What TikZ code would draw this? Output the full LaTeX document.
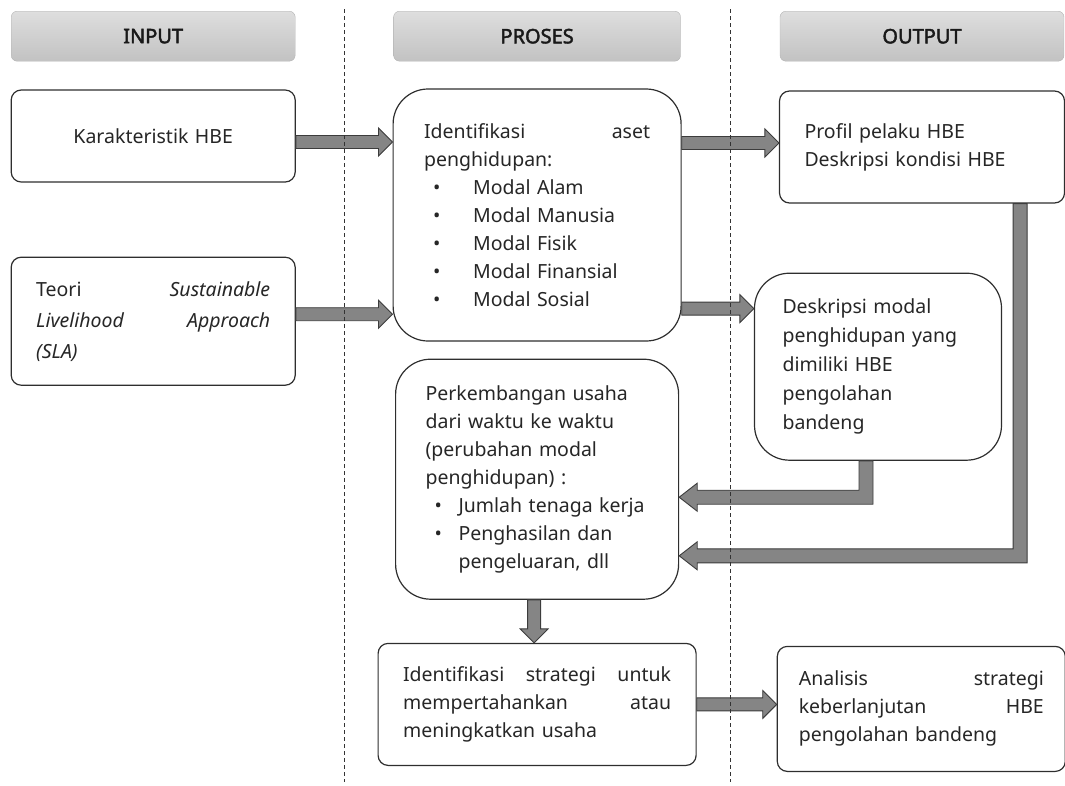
\documentclass[tikz,border=0pt]{standalone}
\usepackage{fontspec}
\setmainfont{Noto Sans}
\newfontfamily\headfont{Noto Sans}[FakeBold=2.2]
\usetikzlibrary{positioning, calc}

\definecolor{headtop}{HTML}{DEDEDE}
\definecolor{headbot}{HTML}{C2C2C2}
\definecolor{headline}{HTML}{B4B4B4}
\definecolor{arrowfill}{HTML}{858585}
\definecolor{arrowline}{HTML}{3C3C3C}
\definecolor{boxline}{HTML}{2E2E2E}
\definecolor{txt}{HTML}{262626}

\newcommand{\bul}[1]{\makebox[#1][l]{\hspace*{9pt}\textbullet}}

\begin{document}
\begin{tikzpicture}[
    x=1pt, y=-1pt,
    head/.style={draw=headline, rounded corners=6pt, top color=headtop, bottom color=headbot, minimum width=284pt, minimum height=50pt, text=black!90, font=\headfont\fontsize{20}{24}\selectfont},
    box/.style={draw=boxline, line width=1.2pt, rounded corners=10pt, align=left, inner ysep=0pt, text=txt, font=\fontsize{19.5}{28}\selectfont},
    bigbox/.style={box, rounded corners=35pt},
    fat/.style={fill=arrowfill, draw=arrowline, line width=0.9pt, line join=miter,
        to path={let \p1=(\tikztostart), \p2=(\tikztotarget), \n1={atan2(\y2-\y1,\x2-\x1)} in
            ($(\p1)+(\n1+90:6.5pt)$) -- ($(\p2)+(\n1+180:14pt)+(\n1+90:6.5pt)$)
            -- ($(\p2)+(\n1+180:14pt)+(\n1+90:14pt)$) -- (\p2)
            -- ($(\p2)+(\n1+180:14pt)+(\n1-90:14pt)$) -- ($(\p2)+(\n1+180:14pt)+(\n1-90:6.5pt)$)
            -- ($(\p1)+(\n1-90:6.5pt)$) -- cycle}},
    fatbend/.style={fill=arrowfill, draw=arrowline, line width=0.9pt, line join=miter,
        to path={let \p1=(\tikztostart), \p2=(\tikztotarget) in
            ({\x1-7pt},\y1) -- ({\x1-7pt},{\y2+7pt}) -- ({\x2+18pt},{\y2+7pt}) -- ({\x2+18pt},{\y2+14pt}) -- (\p2)
            -- ({\x2+18pt},{\y2-14pt}) -- ({\x2+18pt},{\y2-7pt}) -- ({\x1+7pt},{\y2-7pt}) -- ({\x1+7pt},\y1) -- cycle}},
    sep/.style={line width=1pt, black!80, dash pattern=on 4pt off 3pt}
]
\useasboundingbox (0,0) rectangle (1065,785);

% column heads
\node[head, anchor=north west] (hIn) at (11,11) {INPUT};
\node[head, right=98pt of hIn, minimum width=287pt] (hPro) {PROSES};
\node[head, right=99pt of hPro] (hOut) {OUTPUT};

% input
\node[box, below=28pt of hIn, text width=234pt, inner xsep=25pt, minimum height=92pt, align=center] (karak) {Karakteristik HBE};
\node[box, below=74pt of karak, text width=234pt, inner xsep=25pt, minimum height=128pt, font=\fontsize{19.5}{31}\selectfont] (teori)
    {Teori\hfill\textit{Sustainable}\\ \textit{Livelihood}\hfill\textit{Approach}\\ \textit{(SLA)}};

% proses
\node[bigbox, below=27pt of hPro, text width=226pt, inner xsep=31pt, minimum height=252pt] (aset)
    {Identifikasi\hfill aset\\ penghidupan:\\ \bul{49pt}Modal Alam\\ \bul{49pt}Modal Manusia\\ \bul{49pt}Modal Fisik\\ \bul{49pt}Modal Finansial\\ \bul{49pt}Modal Sosial};
\node[bigbox, below=17pt of aset, text width=223pt, inner xsep=30pt, minimum height=240pt] (kembang)
    {Perkembangan usaha\\ dari waktu ke waktu\\ (perubahan modal\\ penghidupan) :\\ \bul{33pt}Jumlah tenaga kerja\\ \bul{33pt}Penghasilan dan\\ \hspace*{33pt}pengeluaran, dll};
\node[box, below=43pt of kembang, text width=268pt, inner xsep=25pt, minimum height=122pt] (strat)
    {Identifikasi\hfill strategi\hfill untuk\\ mempertahankan\hfill atau\\ meningkatkan usaha};

% output
\node[box, below=29pt of hOut, text width=235pt, inner xsep=25pt, minimum height=112pt] (profil)
    {Profil pelaku HBE\\ Deskripsi kondisi HBE};
\node[bigbox, below=69pt of profil, xshift=-44pt, text width=191pt, inner xsep=28pt, minimum height=187pt, font=\fontsize{19.5}{29}\selectfont] (deskr)
    {Deskripsi modal\\ penghidupan yang\\ dimiliki HBE\\ pengolahan\\ bandeng};
\node[box, right=80pt of strat, yshift=-4.5pt, text width=245pt, inner xsep=21.5pt, minimum height=125pt] (analis)
    {Analisis\hfill strategi\\ keberlanjutan\hfill HBE\\ pengolahan bandeng};

% arrows
\draw[fat] ([yshift=-6pt]karak.east) to ([yshift=-6pt]karak.east -| aset.west);
\draw[fat] ([yshift=7pt]teori.east) to ([yshift=7pt]teori.east -| aset.west);
\draw[fat] ([yshift=4pt]profil.west -| aset.east) to ([yshift=4pt]profil.west);
\coordinate (asetlow) at ([yshift=33pt]aset.south east);
\draw[fat] (asetlow) to (asetlow -| deskr.west);
\draw[fatbend] ([xshift=-12pt]deskr.south) to ([yshift=-18pt]kembang.east);
\draw[fatbend] ([xshift=-45pt]profil.south east) to ([yshift=44pt]kembang.south east);
\draw[fat] ([xshift=-3pt]kembang.south) to ([xshift=-3pt]kembang.south |- strat.north);
\draw[fat] (strat.east) to (strat.east -| analis.west);

% column separators
\coordinate (sepA1) at (344,9);
\coordinate (sepA2) at (344,782);
\coordinate (sepB1) at (730,9);
\coordinate (sepB2) at (730,782);
\draw[sep] (sepA1) -- (sepA2);
\draw[sep] (sepB1) -- (sepB2);
\end{tikzpicture}
\end{document}
